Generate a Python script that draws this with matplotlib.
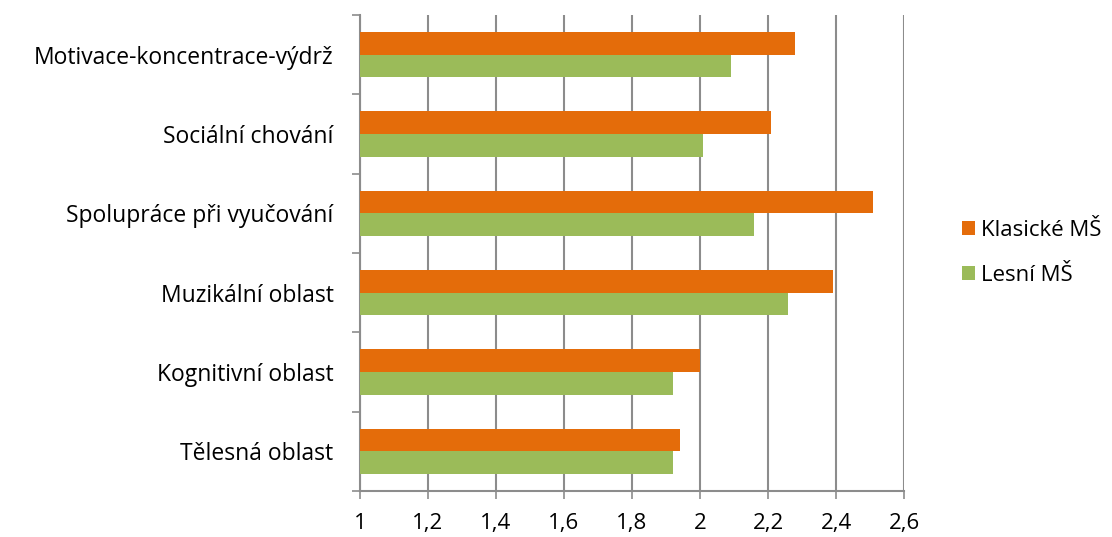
import numpy as np
import matplotlib
matplotlib.use("Agg")
import matplotlib.pyplot as plt
from matplotlib.ticker import FixedLocator, FuncFormatter

plt.rcParams['font.family'] = ['Open Sans', 'DejaVu Sans']

# Data (top to bottom as in the chart)
categories = ["Motivace-koncentrace-výdrž", "Sociální chování", "Spolupráce při vyučování",
              "Muzikální oblast", "Kognitivní oblast", "Tělesná oblast"]
klasicke = [2.28, 2.21, 2.51, 2.39, 2.00, 1.94]
lesni = [2.09, 2.01, 2.16, 2.26, 1.92, 1.92]
xticks = [1, 1.2, 1.4, 1.6, 1.8, 2, 2.2, 2.4, 2.6]

orange = "#E46C0A"
green = "#9BBB59"
grid_col = "#8C8C8C"

fig = plt.figure(figsize=(11.12, 5.37), dpi=100)
ax = fig.add_axes([360 / 1112, 1 - 491 / 537, 544 / 1112, 476 / 537])

n = len(categories)
y = np.arange(n)[::-1].astype(float)  # top category gets highest y
h = 0.285

ax.barh(y + h / 2, np.array(klasicke) - 1, left=1, height=h, color=orange, label="Klasické MŠ", zorder=3)
ax.barh(y - h / 2, np.array(lesni) - 1, left=1, height=h, color=green, label="Lesní MŠ", zorder=3)

ax.set_xlim(1, 2.6)
ax.set_ylim(-0.5, n - 0.5)

# x axis
ax.set_xticks(xticks)
ax.xaxis.set_major_formatter(FuncFormatter(lambda v, p: f"{v:g}".replace(".", ",")))
ax.tick_params(axis="x", length=6, width=1.2, color=grid_col, pad=10, labelsize=16)
ax.grid(axis="x", color=grid_col, linewidth=1.5, zorder=0)

# y axis: labels at centers, ticks at boundaries
ax.set_yticks(y)
ax.set_yticklabels(categories)
ax.yaxis.set_minor_locator(FixedLocator(np.arange(n + 1) - 0.5))
ax.tick_params(axis="y", which="major", length=0, pad=19, labelsize=16.5)
ax.tick_params(axis="y", which="minor", length=6, width=1.2, color=grid_col)

for s in ["top", "right"]:
    ax.spines[s].set_visible(False)
for s in ["left", "bottom"]:
    ax.spines[s].set_color(grid_col)
    ax.spines[s].set_linewidth(1.5)

ax.legend(loc="center left", bbox_to_anchor=(1.07, 0.5), frameon=False, fontsize=16,
          handlelength=0.6, handleheight=0.6, handletextpad=0.25, labelspacing=1.1)

fig.savefig("out.png", dpi=100)
